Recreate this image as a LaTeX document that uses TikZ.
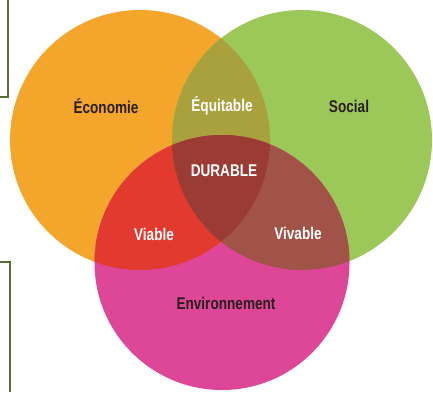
\documentclass[tikz,border=0pt]{standalone}
\usepackage{fontspec}
\setmainfont{Liberation Sans}[FakeStretch=0.8]
\definecolor{corange}{HTML}{F4A52B}
\definecolor{cgreen}{HTML}{9CC759}
\definecolor{cmagenta}{HTML}{DE4697}
\definecolor{colive}{HTML}{A9A13E}
\definecolor{cred}{HTML}{E23A2E}
\definecolor{cbrown}{HTML}{A15347}
\definecolor{ccenter}{HTML}{9B3C34}
\definecolor{cdark}{HTML}{2A1F1E}
\definecolor{cframe}{HTML}{5A6E2E}
\begin{document}
\begin{tikzpicture}[x=1pt,y=-1pt,
  darklabel/.style={font=\bfseries\fontsize{17}{19}\selectfont, text=cdark, inner sep=0pt},
  lightlabel/.style={font=\bfseries\fontsize{17}{19}\selectfont, text=white, inner sep=0pt},
  framepart/.style={draw=cframe, line width=2pt}]
\useasboundingbox (0,0) rectangle (433,392);
\def\orangec{(140,140) circle[radius=130]}
\def\greenc{(302,140) circle[radius=130]}
\def\magc{(222,262.5) circle[radius=127.5]}
% base circles
\fill[corange] \orangec;
\fill[cgreen] \greenc;
\fill[cmagenta] \magc;
% pairwise intersections
\begin{scope}\clip \orangec; \fill[colive] \greenc; \end{scope}
\begin{scope}\clip \orangec; \fill[cred] \magc; \end{scope}
\begin{scope}\clip \greenc; \fill[cbrown] \magc; \end{scope}
% triple intersection
\begin{scope}\clip \orangec; \clip \greenc; \fill[ccenter] \magc; \end{scope}
% frame fragments
\draw[framepart] (0,97) -- (8,97) -- (8,0);
\draw[framepart] (0,262) -- (9.5,262) -- (9.5,392);
% labels
\node[darklabel] (eco) at (106,106) {Économie};
\node[lightlabel] (equ) at (222,106) {Équitable};
\node[darklabel] (soc) at (349,106) {Social};
\node[lightlabel] (dur) at (224,171) {DURABLE};
\node[lightlabel] (via) at (154,234) {Viable};
\node[lightlabel] (viv) at (298,233) {Vivable};
\node[darklabel] (env) at (226,303) {Environnement};
\end{tikzpicture}
\end{document}
